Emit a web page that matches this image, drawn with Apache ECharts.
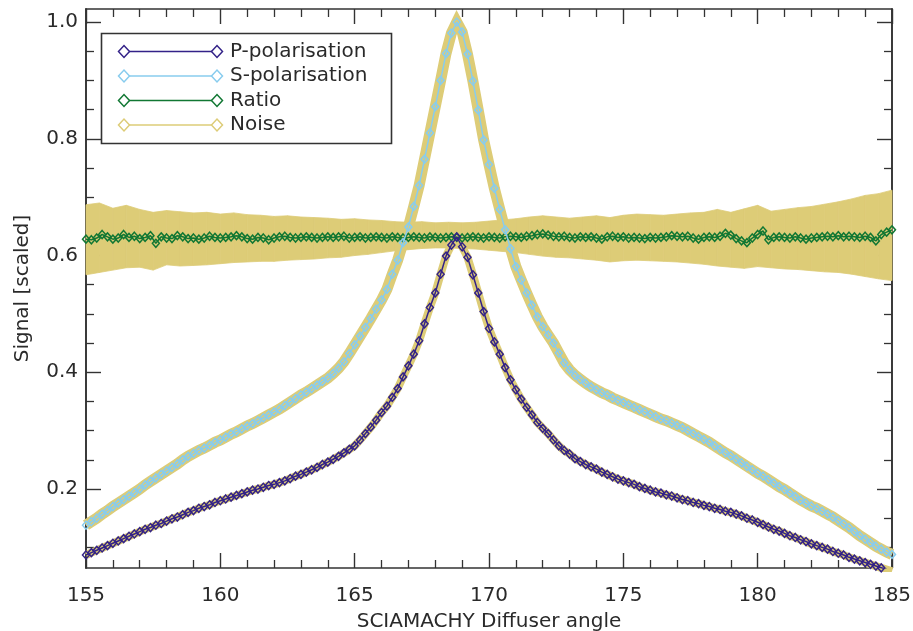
<!DOCTYPE html>
<html>
<head>
<meta charset="utf-8">
<script src="https://cdn.jsdelivr.net/npm/echarts@6/dist/echarts.min.js"></script>
<style>
html,body{margin:0;padding:0;background:#fff;}
#chart{width:913px;height:631px;}
</style>
</head>
<body>
<div id="chart"></div>
<script>
// ---------- DATA ----------
const angles = [
155.0,155.2,155.4,155.6,155.8,156.0,156.2,156.4,156.6,156.8,
157.0,157.2,157.4,157.6,157.8,158.0,158.2,158.4,158.6,158.8,
159.0,159.2,159.4,159.6,159.8,160.0,160.2,160.4,160.6,160.8,
161.0,161.2,161.4,161.6,161.8,162.0,162.2,162.4,162.6,162.8,
163.0,163.2,163.4,163.6,163.8,164.0,164.2,164.4,164.6,164.8,
165.0,165.2,165.4,165.6,165.8,166.0,166.2,166.4,166.6,166.8,
167.0,167.2,167.4,167.6,167.8,168.0,168.2,168.4,168.6,168.8,
169.0,169.2,169.4,169.6,169.8,170.0,170.2,170.4,170.6,170.8,
171.0,171.2,171.4,171.6,171.8,172.0,172.2,172.4,172.6,172.8,
173.0,173.2,173.4,173.6,173.8,174.0,174.2,174.4,174.6,174.8,
175.0,175.2,175.4,175.6,175.8,176.0,176.2,176.4,176.6,176.8,
177.0,177.2,177.4,177.6,177.8,178.0,178.2,178.4,178.6,178.8,
179.0,179.2,179.4,179.6,179.8,180.0,180.2,180.4,180.6,180.8,
181.0,181.2,181.4,181.6,181.8,182.0,182.2,182.4,182.6,182.8,
183.0,183.2,183.4,183.6,183.8,184.0,184.2,184.4,184.6,184.8,
185.0];

const sPol = [
.138,.144,.150,.157,.163,.170,.176,.182,.188,.194,
.200,.207,.213,.219,.225,.231,.237,.243,.250,.256,
.261,.266,.270,.275,.280,.284,.289,.294,.298,.303,
.308,.312,.317,.322,.327,.332,.337,.343,.349,.355,
.361,.366,.372,.378,.384,.390,.398,.407,.418,.432,
.447,.462,.477,.492,.508,.524,.542,.568,.592,.622,
.649,.684,.720,.765,.810,.855,.900,.946,.981,1.000,
.983,.945,.899,.849,.798,.756,.715,.679,.644,.612,
.581,.558,.536,.515,.495,.478,.464,.450,.433,.416,
.404,.395,.388,.381,.375,.370,.365,.361,.356,.352,
.348,.344,.340,.336,.332,.328,.324,.320,.317,.313,
.309,.305,.300,.295,.290,.285,.280,.274,.268,.262,
.257,.251,.245,.239,.233,.227,.222,.216,.210,.204,
.199,.193,.187,.181,.176,.171,.167,.162,.157,.152,
.146,.140,.134,.127,.120,.114,.108,.102,.097,.092,
.088];

const pPol = [
.087,.091,.095,.099,.103,.107,.111,.115,.119,.123,
.127,.131,.134,.138,.141,.145,.149,.152,.156,.160,
.163,.167,.170,.173,.177,.180,.183,.186,.189,.192,
.195,.198,.200,.203,.206,.208,.211,.214,.218,.222,
.225,.229,.233,.237,.242,.246,.251,.256,.262,.268,
.274,.284,.295,.306,.318,.331,.342,.357,.372,.392,
.411,.431,.454,.483,.511,.536,.568,.599,.618,.632,
.615,.597,.567,.536,.504,.475,.452,.431,.408,.387,
.370,.354,.340,.327,.314,.304,.295,.284,.274,.266,
.260,.252,.247,.242,.238,.234,.229,.225,.221,.217,
.214,.211,.208,.204,.201,.198,.195,.193,.190,.188,
.185,.182,.180,.177,.175,.172,.170,.167,.165,.162,
.160,.157,.154,.150,.147,.143,.139,.135,.131,.128,
.124,.120,.117,.113,.110,.106,.103,.100,.097,.093,
.090,.087,.083,.080,.077,.074,.071,.068,.065,.062,
.059];

const ratio = [
.628,.627,.630,.636,.632,.628,.630,.636,.631,.633,
.629,.631,.634,.621,.632,.630,.629,.634,.632,.629,
.630,.628,.630,.633,.631,.630,.631,.632,.634,.632,
.629,.628,.631,.630,.627,.630,.632,.633,.631,.630,
.631,.632,.631,.630,.631,.632,.631,.632,.633,.630,
.631,.632,.630,.631,.632,.631,.630,.632,.631,.630,
.631,.632,.631,.630,.632,.631,.630,.631,.632,.631,
.630,.631,.632,.631,.630,.632,.631,.630,.632,.633,
.632,.631,.633,.634,.636,.637,.635,.633,.632,.633,
.631,.630,.632,.631,.632,.630,.628,.632,.633,.631,
.632,.630,.631,.630,.629,.631,.630,.631,.632,.634,
.633,.632,.633,.630,.628,.631,.632,.631,.633,.638,
.635,.629,.625,.622,.630,.636,.642,.627,.631,.632,
.631,.630,.632,.630,.628,.630,.631,.632,.633,.632,
.634,.632,.633,.632,.631,.633,.631,.625,.636,.640,
.644];

// ratio noise envelope (sampled every 0.5 degree)
const noiseAngles = [
155.0,155.5,156.0,156.5,157.0,157.5,158.0,158.5,159.0,159.5,
160.0,160.5,161.0,161.5,162.0,162.5,163.0,163.5,164.0,164.5,
165.0,165.5,166.0,166.5,167.0,167.5,168.0,168.5,169.0,169.5,
170.0,170.5,171.0,171.5,172.0,172.5,173.0,173.5,174.0,174.5,
175.0,175.5,176.0,176.5,177.0,177.5,178.0,178.5,179.0,179.5,
180.0,180.5,181.0,181.5,182.0,182.5,183.0,183.5,184.0,184.5,
185.0];
const noiseUpper = [
.687,.690,.681,.686,.679,.674,.677,.675,.673,.674,
.671,.673,.670,.669,.667,.668,.666,.665,.664,.662,
.663,.661,.660,.658,.657,.658,.656,.657,.656,.657,
.659,.661,.663,.666,.668,.666,.664,.666,.668,.665,
.669,.671,.670,.669,.671,.673,.674,.679,.674,.680,
.686,.676,.679,.682,.684,.688,.692,.697,.703,.706,
.712];
const noiseLower = [
.567,.571,.575,.579,.580,.575,.584,.582,.583,.584,
.586,.588,.589,.590,.590,.592,.593,.594,.596,.597,
.600,.602,.605,.608,.610,.612,.613,.613,.612,.611,
.609,.607,.605,.602,.599,.597,.596,.594,.592,.589,
.591,.592,.591,.590,.589,.587,.585,.582,.580,.578,
.581,.579,.577,.576,.574,.572,.571,.568,.564,.560,
.557];

const seriesNames = ['P-polarisation','S-polarisation','Ratio','Noise'];
const seriesColors = ['#332288','#88CCEE','#117733','#DDCC77'];

const xTitle = 'SCIAMACHY Diffuser angle';
const yTitle = 'Signal [scaled]';
const yMajorTicks = [0.2,0.4,0.6,0.8,1.0];
const yMinorTicks = [0.1,0.15,0.25,0.3,0.35,0.45,0.5,0.55,0.65,0.7,0.75,0.85,0.9,0.95];

// ---------- CHART ----------
const FONT = 'DejaVu Sans';
const FS = 20;
const TXT = '#2a2a2a';
const AX = '#333';
const chart = echarts.init(document.getElementById('chart'), null, {renderer:'canvas'});

const pairs = (xs, ys) => xs.map((x,i)=>[x, ys[i]]);
// band segments: [x0, lo0, up0, x1, lo1, up1]
const bandSegs = noiseAngles.slice(0, -1).map((x,i)=>[
  x, noiseLower[i], noiseUpper[i], noiseAngles[i+1], noiseLower[i+1], noiseUpper[i+1]
]);

const YMIN = 0.0647, YMAX = 1.0223;

const xBase = {
  type:'value', min:155, max:185, interval:5,
  splitLine:{show:false},
  axisLine:{show:true, onZero:false, lineStyle:{color:AX, width:1.6}},
  axisTick:{show:true, inside:true, length:15, lineStyle:{color:AX, width:1.4}},
  minorTick:{show:true, splitNumber:5, length:8, lineStyle:{color:AX, width:1.3}},
  minorSplitLine:{show:false}
};
const yBase = {
  type:'value', min:YMIN, max:YMAX,
  splitLine:{show:false},
  axisLine:{show:true, onZero:false, lineStyle:{color:AX, width:1.6}},
};

const symStyle = (c)=>({color:'rgba(255,255,255,0)', borderColor:c, borderWidth:1.5});

const option = {
  animation:false,
  backgroundColor:'#fff',
  grid:{left:86, right:21, top:9, bottom:63, containLabel:false, outerBoundsMode:'none'},
  xAxis:[
    Object.assign({}, xBase, {
      position:'bottom',
      axisLabel:{show:true, margin:18, fontSize:FS, color:TXT, fontFamily:FONT},
      name:xTitle, nameLocation:'middle', nameGap:44,
      nameTextStyle:{fontSize:FS, color:TXT, fontFamily:FONT}
    }),
    Object.assign({}, xBase, {position:'top', axisLabel:{show:false}})
  ],
  yAxis:[
    Object.assign({}, yBase, {
      position:'left',
      axisTick:{show:true, inside:true, length:15, customValues:yMajorTicks, lineStyle:{color:AX, width:1.4}},
      axisLabel:{show:true, customValues:yMajorTicks, margin:8, fontSize:FS, color:TXT, fontFamily:FONT,
                 formatter:(v)=>Number(v).toFixed(1)},
      name:yTitle, nameLocation:'middle', nameGap:53, nameRotate:90,
      nameTextStyle:{fontSize:FS, color:TXT, fontFamily:FONT}
    }),
    Object.assign({}, yBase, {
      position:'left',
      axisTick:{show:true, inside:true, length:8, customValues:yMinorTicks, lineStyle:{color:AX, width:1.3}},
      axisLabel:{show:false}
    }),
    Object.assign({}, yBase, {
      position:'right',
      axisTick:{show:true, inside:true, length:15, customValues:yMajorTicks, lineStyle:{color:AX, width:1.4}},
      axisLabel:{show:false}
    }),
    Object.assign({}, yBase, {
      position:'right',
      axisTick:{show:true, inside:true, length:8, customValues:yMinorTicks, lineStyle:{color:AX, width:1.3}},
      axisLabel:{show:false}
    })
  ],
  series:[
    {
      name:'Noise', type:'custom', silent:true, z:1,
      data:bandSegs,
      encode:{x:[0,3], y:[1,2,4,5]},
      renderItem:(params, api)=>{
        const a = api.coord([api.value(0), api.value(1)]);
        const b = api.coord([api.value(0), api.value(2)]);
        const c = api.coord([api.value(3), api.value(5)]);
        const d = api.coord([api.value(3), api.value(4)]);
        return {
          type:'polygon',
          shape:{points:[a,b,c,d]},
          style:{fill:seriesColors[3], stroke:seriesColors[3], lineWidth:0.8}
        };
      }
    },
    {
      name:'S-noise', type:'line', silent:true,
      data:pairs(angles, sPol), symbol:'none',
      lineStyle:{color:seriesColors[3], width:11, join:'miter', miterLimit:10}, z:2
    },
    {
      name:'P-noise', type:'line', silent:true,
      data:pairs(angles, pPol), symbol:'none',
      lineStyle:{color:seriesColors[3], width:8, join:'miter', miterLimit:10}, z:2
    },
    {
      name:'Ratio', type:'line',
      data:pairs(angles, ratio), symbol:'diamond', symbolSize:[7,8], showAllSymbol:true,
      lineStyle:{color:seriesColors[2], width:1.5}, itemStyle:symStyle(seriesColors[2]), z:3
    },
    {
      name:'S-polarisation', type:'line',
      data:pairs(angles, sPol), symbol:'diamond', symbolSize:[7,8], showAllSymbol:true,
      lineStyle:{color:seriesColors[1], width:1.5}, itemStyle:symStyle(seriesColors[1]), z:4
    },
    {
      name:'P-polarisation', type:'line',
      data:pairs(angles, pPol), symbol:'diamond', symbolSize:[7,8], showAllSymbol:true,
      lineStyle:{color:seriesColors[0], width:1.5}, itemStyle:symStyle(seriesColors[0]), z:5
    }
  ]
};

// Legend drawn as graphic (line with a diamond at each end)
const legendChildren = [{
  type:'rect', shape:{x:101.5, y:33.5, width:290, height:110},
  style:{fill:'#fff', stroke:AX, lineWidth:1.6}
}];
const legendRowY = [51.5, 76, 100.5, 125];
const diamond = (cx, cy, c)=>({
  type:'polygon',
  shape:{points:[[cx-5.5,cy],[cx,cy-6],[cx+5.5,cy],[cx,cy+6]]},
  style:{fill:'#fff', stroke:c, lineWidth:1.5}
});
seriesNames.forEach((n,i)=>{
  const y = legendRowY[i], c = seriesColors[i];
  legendChildren.push({type:'line', shape:{x1:124, y1:y, x2:217, y2:y}, style:{stroke:c, lineWidth:1.6}});
  legendChildren.push(diamond(124, y, c));
  legendChildren.push(diamond(217, y, c));
  legendChildren.push({type:'text', x:230, y:y,
    style:{text:n, fill:TXT, font:FS + 'px "DejaVu Sans"', textVerticalAlign:'middle', verticalAlign:'middle'}});
});
option.graphic = [{type:'group', z:100, children:legendChildren}];

chart.setOption(option);
</script>
</body>
</html>
